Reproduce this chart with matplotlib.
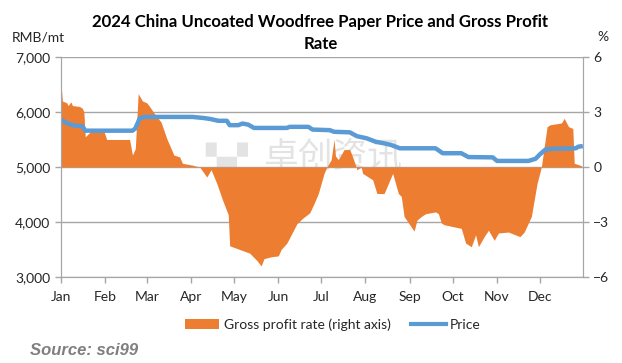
import matplotlib
matplotlib.use("Agg")
import matplotlib.pyplot as plt
from matplotlib.patches import Patch
from matplotlib.lines import Line2D

# --- DATA (day of year 2024, 0 = Jan 1) ---
price_days = [0, 4, 8, 15, 17, 50, 52, 55, 58, 92, 100, 105, 110, 116, 118, 124, 127,
              131, 135, 158, 160, 173, 176, 188, 191, 202, 207, 214, 220, 226, 231, 237,
              262, 267, 280, 285, 302, 305, 327, 332, 335, 339, 345, 360, 362, 365]
price_values = [5860, 5800, 5760, 5740, 5660, 5660, 5700, 5880, 5910, 5910, 5890, 5870,
                5840, 5840, 5760, 5760, 5790, 5770, 5710, 5710, 5730, 5730, 5680, 5670,
                5640, 5630, 5560, 5520, 5460, 5430, 5400, 5340, 5340, 5250, 5250, 5180,
                5175, 5110, 5110, 5150, 5230, 5320, 5330, 5340, 5370, 5380]

profit_days = [0, 1, 4, 5, 7, 8, 13, 15, 16, 17, 19, 21, 30, 32, 48, 50, 52, 54, 57, 60,
               62, 65, 70, 74, 79, 83, 85, 92, 97, 102, 105, 109, 113, 117, 118, 125,
               132, 137, 140, 142, 147, 152, 154, 158, 165, 169, 174, 177, 180, 184, 186,
               189, 191, 192, 194, 198, 202, 204, 206, 207, 210, 211, 218, 221, 226, 229,
               232, 236, 238, 240, 247, 249, 252, 255, 262, 264, 266, 268, 280, 283, 287,
               290, 292, 296, 299, 303, 306, 313, 321, 324, 329, 333, 336, 340, 342, 350,
               352, 355, 358, 359, 363, 365]
profit_values = [4.6, 3.6, 3.5, 3.35, 3.55, 3.35, 3.3, 3.2, 3.0, 1.65, 1.8, 1.95, 1.95,
                 1.5, 1.5, 0.65, 1.0, 4.0, 3.6, 3.5, 3.3, 2.95, 2.45, 1.55, 0.65, 0.55,
                 0.2, 0.1, 0.0, -0.55, -0.15, -0.9, -1.8, -2.6, -4.3, -4.5, -4.7, -5.1,
                 -5.4, -5.0, -4.9, -4.85, -4.5, -4.15, -3.1, -2.8, -2.5, -2.0, -1.45,
                 -0.35, 0.0, 0.4, 1.5, 0.6, 0.4, 0.95, 0.95, 0.55, 0.1, -0.15, 0.0, -0.35,
                 -0.7, -1.45, -1.45, -0.9, -0.35, -1.45, -1.6, -2.7, -3.5, -2.9, -2.7,
                 -2.55, -2.45, -2.55, -3.05, -3.15, -3.35, -4.15, -4.35, -3.7, -4.35,
                 -3.8, -3.45, -4.0, -3.6, -3.55, -3.8, -3.55, -2.7, -0.9, 0.0, 2.2, 2.3,
                 2.4, 2.65, 2.2, 2.1, 0.2, 0.1, 0.0]

month_starts = [0, 31, 60, 91, 121, 152, 182, 213, 244, 274, 305, 335]
month_labels = ["Jan", "Feb", "Mar", "Apr", "May", "Jun", "Jul", "Aug", "Sep", "Oct", "Nov", "Dec"]

# --- STYLE ---
orange = "#ED7D31"
blue = "#5B9BD5"
grid_gray = "#A6A6A6"
axis_gray = "#A6A6A6"
text_col = "#262626"
plt.rcParams["font.family"] = ["Lato", "DejaVu Sans"]

fig = plt.figure(figsize=(6.22, 3.63), dpi=100)
ax = fig.add_axes([0.098, 0.237, 0.839, 0.606])
ax2 = ax.twinx()
ax.set_zorder(2)
ax2.set_zorder(1)
ax.patch.set_visible(False)

# watermark behind everything
fig.text(0.535, 0.567, "卓创资讯", family=["Noto Sans CJK SC"], fontsize=25,
         color="#E3E3E3", ha="center", va="center", zorder=0)
fig.text(0.365, 0.567, "▚▞", family=["DejaVu Sans"], fontsize=20,
         color="#E3E3E3", ha="center", va="center", zorder=0)

# profit area (right axis)
ax2.fill_between(profit_days, profit_values, 0, color=orange, linewidth=0, zorder=2)
ax2.set_ylim(-6, 6)
ax2.set_yticks([-6, -3, 0, 3, 6])
ax2.grid(axis="y", color=grid_gray, linewidth=1.0, zorder=0)
ax2.set_axisbelow(True)

# price line (left axis)
ax.plot(price_days, price_values, color=blue, linewidth=3.2, solid_capstyle="butt")
ax.set_ylim(3000, 7000)
ax.set_yticks([3000, 4000, 5000, 6000, 7000])
ax.set_yticklabels([f"{v:,}" for v in [3000, 4000, 5000, 6000, 7000]])
ax.set_xlim(0, 365)
ax.set_xticks(month_starts)
ax.set_xticklabels(month_labels)

for a in (ax, ax2):
    for s in a.spines.values():
        s.set_color(axis_gray)
    a.spines["top"].set_visible(False)
    a.tick_params(colors=axis_gray, labelcolor=text_col, labelsize=10, length=4, width=1)
ax.tick_params(axis="x", pad=6)

# labels
fig.text(0.062, 0.898, "RMB/mt", fontsize=10, color=text_col, ha="center", va="center")
fig.text(0.97, 0.898, "%", fontsize=10, color=text_col, ha="center", va="center")
fig.text(0.515, 0.908, "2024 China Uncoated Woodfree Paper Price and Gross Profit\nRate",
         fontsize=12.1, fontweight="bold", color="black", ha="center", va="center",
         linespacing=1.45)

handles = [Patch(facecolor=orange, edgecolor="none"),
           Line2D([0], [0], color=blue, linewidth=3)]
fig.legend(handles, ["Gross profit rate (right axis)", "Price"], loc="center",
           bbox_to_anchor=(0.535, 0.105), ncol=2, frameon=False, fontsize=10,
           handlelength=2.5, handletextpad=0.3, columnspacing=1.5,
           labelcolor=text_col)

fig.text(0.048, 0.035, "Source: sci99", family=["Liberation Sans"], fontsize=12,
         fontweight="bold", fontstyle="italic", color="#7F7F7F", ha="left", va="center")

fig.savefig("out.png", dpi=100)
